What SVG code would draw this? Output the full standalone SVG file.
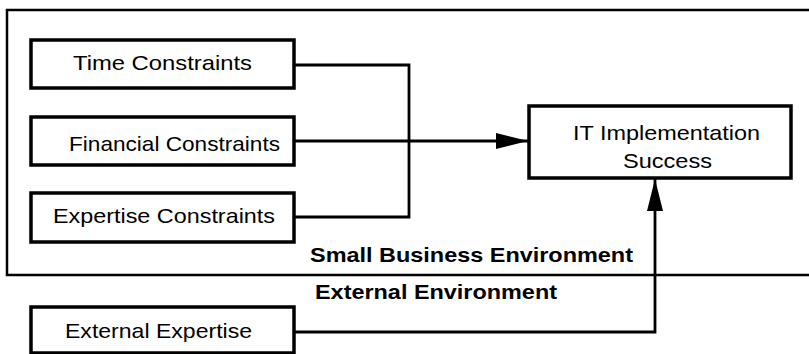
<svg xmlns="http://www.w3.org/2000/svg" width="809" height="354" viewBox="0 0 809 354">
<style>
.box{fill:#fff;stroke:#000;stroke-width:3.5}
.frame{fill:none;stroke:#000;stroke-width:2.5}
.t{font-family:"Liberation Sans",Arial,sans-serif;font-size:21px;fill:#000}
.b{font-family:"Liberation Sans",Arial,sans-serif;font-size:21px;font-weight:bold;fill:#000}
.ln{fill:none;stroke:#000;stroke-width:2.8}
</style>
<defs>
<marker id="ah" markerUnits="userSpaceOnUse" markerWidth="34" markerHeight="18" refX="32" refY="9" orient="auto">
<path d="M0,1 L32,9 L0,17 Z" fill="#000"/>
</marker>
</defs>
<rect fill="#fff" width="809" height="354"/>
<g id="small-business-environment">
<path class="frame" d="M815,10 L7,10 L7,275 L815,275"/>
<text class="b" x="310" y="262" textLength="323" lengthAdjust="spacingAndGlyphs">Small Business Environment</text>
</g>
<g id="external-environment">
<text class="b" x="315" y="299" textLength="242" lengthAdjust="spacingAndGlyphs">External Environment</text>
</g>
<g id="connectors">
<path class="ln" d="M294,65 L409,65 L409,217 L294,217"/>
<path class="ln" d="M294,141 L528,141" marker-end="url(#ah)"/>
<path class="ln" d="M294,332 L655,332 L655,179" marker-end="url(#ah)"/>
</g>
<g id="time-constraints">
<rect class="box" x="31" y="40" width="263" height="48"/>
<text class="t" x="73" y="70" textLength="179" lengthAdjust="spacingAndGlyphs">Time Constraints</text>
</g>
<g id="financial-constraints">
<rect class="box" x="31" y="117" width="263" height="48"/>
<text class="t" x="69" y="151" textLength="211" lengthAdjust="spacingAndGlyphs">Financial Constraints</text>
</g>
<g id="expertise-constraints">
<rect class="box" x="31" y="193" width="263" height="49"/>
<text class="t" x="53" y="223" textLength="222" lengthAdjust="spacingAndGlyphs">Expertise Constraints</text>
</g>
<g id="external-expertise">
<rect class="box" x="31" y="307" width="263" height="46"/>
<text class="t" x="65" y="338" textLength="187" lengthAdjust="spacingAndGlyphs">External Expertise</text>
</g>
<g id="it-implementation-success">
<rect class="box" x="529" y="106" width="262" height="72"/>
<text class="t" x="573" y="140" textLength="187" lengthAdjust="spacingAndGlyphs">IT Implementation</text>
<text class="t" x="623" y="168" textLength="89" lengthAdjust="spacingAndGlyphs">Success</text>
</g>
</svg>
